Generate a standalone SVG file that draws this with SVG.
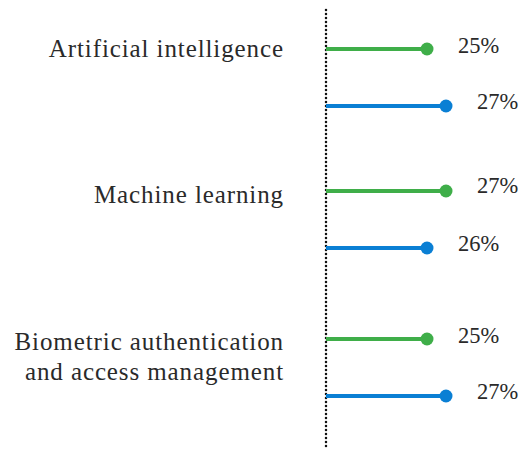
<svg xmlns="http://www.w3.org/2000/svg" width="525" height="452" viewBox="0 0 525 452">
<style>
.lbl{font-family:"Liberation Serif","DejaVu Serif",serif;font-size:25px;letter-spacing:0.9px;fill:#2a2a2a;text-anchor:end}
.pct{font-family:"Liberation Serif","DejaVu Serif",serif;font-size:22.5px;fill:#2a2a2a}
.g{stroke:#3fae49;stroke-width:4}
.b{stroke:#0a7fd4;stroke-width:4}
.gd{fill:#3fae49}
.bd{fill:#0a7fd4}
</style>
<rect width="525" height="452" fill="#fff"/>
<g id="axis">
<line x1="326" y1="10" x2="326" y2="450" stroke="#111" stroke-width="2.5" stroke-dasharray="0 4" stroke-linecap="round"/>
</g>
<g id="connectors">
<line class="g" x1="326" y1="49" x2="427" y2="49"/>
<line class="b" x1="326" y1="106" x2="446" y2="106"/>
<line class="g" x1="326" y1="191" x2="446" y2="191"/>
<line class="b" x1="326" y1="248" x2="427" y2="248"/>
<line class="g" x1="326" y1="339" x2="427" y2="339"/>
<line class="b" x1="326" y1="396" x2="446" y2="396"/>
</g>
<g id="ai">
<text class="lbl" x="284" y="57">Artificial intelligence</text>
<circle class="gd" cx="427" cy="49" r="6.5"/>
<text class="pct" x="458" y="53">25%</text>
<circle class="bd" cx="446" cy="106" r="6.5"/>
<text class="pct" x="477" y="109">27%</text>
</g>
<g id="ml">
<text class="lbl" x="284" y="203">Machine learning</text>
<circle class="gd" cx="446" cy="191" r="6.5"/>
<text class="pct" x="477" y="193">27%</text>
<circle class="bd" cx="427" cy="248" r="6.5"/>
<text class="pct" x="458" y="251">26%</text>
</g>
<g id="bio">
<text class="lbl" x="284" y="350">Biometric authentication</text>
<text class="lbl" x="284" y="380">and access management</text>
<circle class="gd" cx="427" cy="339" r="6.5"/>
<text class="pct" x="458" y="343">25%</text>
<circle class="bd" cx="446" cy="396" r="6.5"/>
<text class="pct" x="477" y="399">27%</text>
</g>
</svg>
